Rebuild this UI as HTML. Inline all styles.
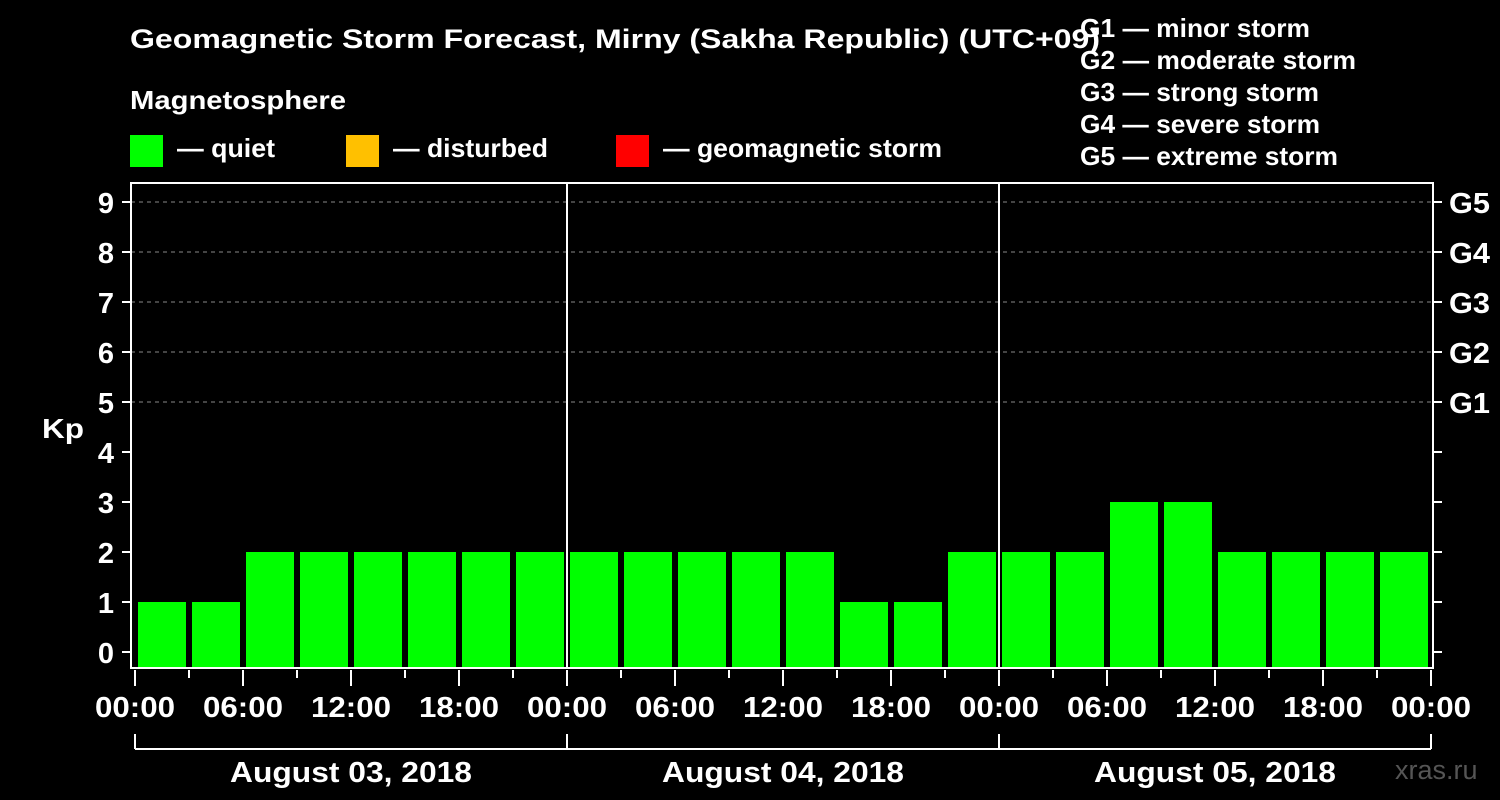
<!DOCTYPE html>
<html><head><meta charset="utf-8"><style>
body{margin:0;background:#000;}
svg{display:block;font-family:"Liberation Sans",Arial,sans-serif;font-weight:bold;}
</style></head><body>
<svg id="c" width="1500" height="800" viewBox="0 0 1500 800">
<rect width="1500" height="800" fill="#000"/>
<text x="130" y="48" font-size="27" fill="#fff" textLength="970" lengthAdjust="spacingAndGlyphs">Geomagnetic Storm Forecast, Mirny (Sakha Republic) (UTC+09)</text>
<text x="130" y="109" font-size="26" fill="#fff" textLength="216" lengthAdjust="spacingAndGlyphs">Magnetosphere</text>
<g><rect x="130" y="135" width="33" height="32" fill="#00ff00"/><text x="177" y="157" font-size="26" fill="#fff" textLength="98" lengthAdjust="spacingAndGlyphs">— quiet</text></g>
<g><rect x="346" y="135" width="33" height="32" fill="#ffc000"/><text x="393" y="157" font-size="26" fill="#fff" textLength="155" lengthAdjust="spacingAndGlyphs">— disturbed</text></g>
<g><rect x="616" y="135" width="33" height="32" fill="#ff0000"/><text x="663" y="157" font-size="26" fill="#fff" textLength="279" lengthAdjust="spacingAndGlyphs">— geomagnetic storm</text></g>
<g font-size="26" fill="#fff">
<text x="1080" y="37" textLength="230" lengthAdjust="spacingAndGlyphs">G1 — minor storm</text>
<text x="1080" y="69" textLength="276" lengthAdjust="spacingAndGlyphs">G2 — moderate storm</text>
<text x="1080" y="101" textLength="239" lengthAdjust="spacingAndGlyphs">G3 — strong storm</text>
<text x="1080" y="133" textLength="240" lengthAdjust="spacingAndGlyphs">G4 — severe storm</text>
<text x="1080" y="165" textLength="258" lengthAdjust="spacingAndGlyphs">G5 — extreme storm</text>
</g>
<text x="42" y="438" font-size="28" fill="#fff" textLength="42" lengthAdjust="spacingAndGlyphs">Kp</text>
<g id="grid"></g><g id="bars"></g><g id="axes"></g>
<text x="1395" y="779" font-size="27" fill="#555" font-weight="normal">xras.ru</text>
</svg>
<script>
const days = ["August 03, 2018","August 04, 2018","August 05, 2018"];
const kpValues = [1,1,2,2,2,2,2,2, 2,2,2,2,2,1,1,2, 2,2,3,3,2,2,2,2];
const yTicks = [0,1,2,3,4,5,6,7,8,9];
const gLabels = ["G1","G2","G3","G4","G5"];
const gLevels = [5,6,7,8,9];
const timeLabels = ["00:00","06:00","12:00","18:00"];

const NS="http://www.w3.org/2000/svg";
const X0=135, SLOT=54, L=131, R=1433, T=183, B=668;
const y = v => 652 - v*50;
const x = i => X0 + i*SLOT;
function mk(p,tag,attrs){const e=document.createElementNS(NS,tag);for(const k in attrs)e.setAttribute(k,attrs[k]);p.appendChild(e);return e;}
const grid=document.getElementById('grid'), bars=document.getElementById('bars'), axes=document.getElementById('axes');

gLevels.forEach((lv,i)=>{
  const l=mk(grid,'line',{x1:L,x2:R,y1:y(lv),y2:y(lv),stroke:'#888','stroke-dasharray':'4,4','stroke-width':1});
  
  
  const t=mk(axes,'text',{x:1449,y:y(lv)+11,'font-size':29,fill:'#fff',textLength:41,lengthAdjust:'spacingAndGlyphs'});
  t.textContent=gLabels[i];
  
  
});
kpValues.forEach((v,i)=>{
  const r=mk(bars,'rect',{x:x(i)+3,y:y(v),width:48,height:B-1-y(v),fill:'#00ff00'});
  
  
});
for(let d=1;d<days.length;d++){
  const l=mk(axes,'line',{x1:x(d*8),x2:x(d*8),y1:T,y2:B,stroke:'#fff','stroke-width':2});
  
  
}
const box=mk(axes,'rect',{x:L,y:T,width:R-L,height:B-T,fill:'none',stroke:'#fff','stroke-width':2});


yTicks.forEach(v=>{
  mk(axes,'line',{x1:122,x2:L,y1:y(v),y2:y(v),stroke:'#fff','stroke-width':2});
  mk(axes,'line',{x1:R,x2:1442,y1:y(v),y2:y(v),stroke:'#fff','stroke-width':2});
  const t=mk(axes,'text',{x:114,y:y(v)+11,'font-size':29,fill:'#fff','text-anchor':'end'});
  t.textContent=v;
  
  
});
for(let i=0;i<=days.length*8;i++){
  const major=i%2===0;
  mk(axes,'line',{x1:x(i),x2:x(i),y1:B+2,y2:major?B+18:B+10,stroke:'#fff','stroke-width':2});
  if(major){
    const t=mk(axes,'text',{x:x(i),y:717,'font-size':29,fill:'#fff','text-anchor':'middle',textLength:80,lengthAdjust:'spacingAndGlyphs'});
    t.textContent=timeLabels[(i/2)%4];
    
    
  }
}
mk(axes,'line',{x1:x(0),x2:x(days.length*8),y1:749,y2:749,stroke:'#fff','stroke-width':2});
for(let d=0;d<=days.length;d++) mk(axes,'line',{x1:x(d*8),x2:x(d*8),y1:734,y2:749,stroke:'#fff','stroke-width':2});
days.forEach((dl,d)=>{
  const t=mk(axes,'text',{x:x(d*8+4),y:782,'font-size':29,fill:'#fff','text-anchor':'middle',textLength:242,lengthAdjust:'spacingAndGlyphs'});
  t.textContent=dl;
  
  
});
</script>
</body></html>
